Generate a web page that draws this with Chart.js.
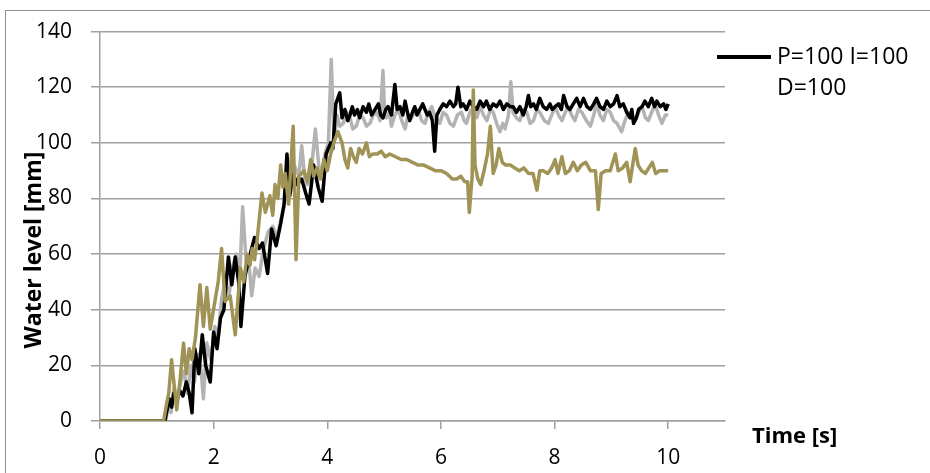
<!DOCTYPE html>
<html>
<head>
<meta charset="utf-8">
<script src="https://cdn.jsdelivr.net/npm/chart.js@4/dist/chart.umd.min.js"></script>
<style>
  html, body { margin: 0; padding: 0; background: #fff; overflow: hidden; }
  #frame { position: absolute; left: 5px; top: 10px; width: 1000px; height: 1000px; border: 1px solid #8f8f8f; }
  #waterChart { position: absolute; left: 0; top: 0; }
</style>
</head>
<body>
<div id="frame"></div>
<canvas id="waterChart" width="930" height="473"></canvas>
<script>
// x axis / y axis
var xTicks = [0, 2, 4, 6, 8, 10];
var xTitle = 'Time [s]';
var yTitle = 'Water level [mm]';

// black series (the only one in the legend)
var blackLabel = 'P=100 I=100 D=100';
var blackTime = [0, 1.14, 1.18, 1.22, 1.26, 1.3, 1.35, 1.4, 1.46, 1.52, 1.57, 1.62, 1.67, 1.74, 1.8, 1.86, 1.94, 2.0, 2.06, 2.12, 2.18, 2.26, 2.32, 2.38, 2.44, 2.48, 2.55, 2.63, 2.72, 2.8, 2.86, 2.95, 3.02, 3.1, 3.18, 3.24, 3.29, 3.34, 3.4, 3.47, 3.55, 3.62, 3.68, 3.76, 3.84, 3.91, 3.98, 4.06, 4.1, 4.15,
  4.22, 4.26, 4.31, 4.36, 4.4, 4.44, 4.48, 4.53, 4.57, 4.63, 4.69, 4.73, 4.78, 4.84, 4.9, 4.94, 4.98, 5.03, 5.07, 5.13, 5.19, 5.23, 5.28, 5.33, 5.37, 5.41, 5.45, 5.5, 5.54, 5.58, 5.63, 5.68, 5.72, 5.76, 5.8, 5.85, 5.89, 5.93, 5.98,
  6.04, 6.1, 6.16, 6.22, 6.26, 6.3, 6.35, 6.39, 6.45, 6.51, 6.57, 6.63, 6.69, 6.75, 6.8, 6.86, 6.92, 6.98, 7.04, 7.1, 7.16, 7.22, 7.27, 7.33, 7.39, 7.45, 7.5, 7.54, 7.58, 7.63, 7.68, 7.74, 7.8, 7.86, 7.92, 7.96,
  8.01, 8.07, 8.12, 8.16, 8.22, 8.27, 8.33, 8.39, 8.45, 8.51, 8.57, 8.63, 8.69, 8.74, 8.8, 8.86, 8.92, 8.98, 9.04, 9.1, 9.15, 9.21, 9.27, 9.33, 9.36, 9.39, 9.44, 9.48, 9.54, 9.59, 9.65, 9.71, 9.76, 9.8, 9.86, 9.92, 9.96, 10];
var blackLevel = [0, 0, 4, 8, 5, 10, 7, 11, 9, 14, 10, 3, 26, 17, 31, 20, 14, 32, 26, 37, 40, 59, 49, 59, 50, 34, 52, 59, 66, 62, 64, 53, 69, 63, 71, 78, 96, 81, 89, 85, 87, 82, 78, 92, 84, 79, 96, 100, 98, 114,
  118, 109, 112, 108, 110, 113, 110, 112, 109, 113, 111, 114, 110, 112, 114, 110, 109, 112, 113, 110, 121, 112, 113, 110, 115, 111, 108, 111, 113, 110, 112, 114, 112, 110, 111, 108, 97, 110, 112,
  114, 113, 115, 113, 114, 120, 113, 114, 112, 115, 113, 112, 115, 113, 115, 112, 114, 113, 115, 112, 114, 113, 113, 111, 113, 110, 113, 117, 113, 114, 112, 116, 113, 112, 114, 112,
  113, 114, 112, 117, 113, 112, 114, 116, 113, 116, 113, 112, 114, 116, 113, 112, 115, 113, 114, 117, 113, 114, 111, 109, 112, 107, 109, 112, 113, 115, 113, 116, 113, 115, 113, 114, 112, 114];

// grey series
var greyTime = [0, 1.16, 1.2, 1.25, 1.3, 1.36, 1.42, 1.48, 1.54, 1.6, 1.66, 1.72, 1.78, 1.82, 1.88, 1.95, 2.02, 2.08, 2.14, 2.2, 2.27, 2.33, 2.4, 2.46, 2.51, 2.57, 2.63, 2.67, 2.73, 2.8, 2.88, 2.96, 3.04, 3.12, 3.18, 3.24, 3.3, 3.36, 3.42, 3.5, 3.55, 3.6, 3.65, 3.72, 3.79, 3.85, 3.91, 3.96, 4.02, 4.07,
  4.12, 4.17, 4.22, 4.28, 4.34, 4.4, 4.45, 4.51, 4.57, 4.63, 4.69, 4.75, 4.81, 4.87, 4.93, 4.98, 5.01, 5.04, 5.09, 5.13, 5.19, 5.25, 5.31, 5.37, 5.42, 5.48, 5.54, 5.6, 5.66, 5.72, 5.78, 5.84, 5.9, 5.98,
  6.04, 6.1, 6.16, 6.22, 6.29, 6.36, 6.41, 6.45, 6.51, 6.57, 6.63, 6.69, 6.75, 6.81, 6.87, 6.92, 6.98, 7.04, 7.09, 7.13, 7.19, 7.23, 7.27, 7.33, 7.39, 7.45, 7.51, 7.57, 7.63, 7.69, 7.74, 7.82, 7.89, 7.95,
  8.01, 8.07, 8.13, 8.19, 8.24, 8.3, 8.36, 8.42, 8.48, 8.56, 8.63, 8.69, 8.74, 8.8, 8.86, 8.92, 8.98, 9.04, 9.1, 9.18, 9.24, 9.3, 9.36, 9.42, 9.48, 9.54, 9.6, 9.65, 9.71, 9.77, 9.83, 9.89, 9.95, 10];
var greyLevel = [0, 0, 6, 3, 12, 8, 14, 18, 10, 20, 14, 24, 18, 8, 28, 22, 34, 30, 44, 50, 45, 55, 60, 52, 77, 58, 55, 45, 55, 52, 62, 68, 70, 66, 72, 77, 86, 90, 92, 88, 99, 88, 85, 90, 105, 92, 89, 96, 100, 130,
  100, 110, 106, 107, 111, 109, 105, 106, 110, 109, 106, 107, 110, 111, 108, 126, 110, 109, 111, 106, 110, 112, 108, 105, 110, 109, 111, 112, 108, 107, 111, 113, 109, 107,
  111, 110, 107, 106, 110, 111, 108, 107, 111, 113, 109, 113, 110, 108, 112, 111, 107, 104, 107, 105, 110, 122, 111, 109, 108, 112, 111, 107, 108, 112, 111, 108, 107, 110,
  113, 110, 108, 111, 113, 110, 108, 112, 111, 108, 106, 110, 114, 110, 108, 112, 111, 108, 107, 104, 108, 111, 109, 108, 111, 113, 109, 108, 111, 114, 110, 107, 110, 110];

// olive series
var oliveTime = [0, 1.12, 1.17, 1.21, 1.26, 1.31, 1.35, 1.41, 1.47, 1.52, 1.57, 1.62, 1.68, 1.76, 1.82, 1.88, 1.94, 2.03, 2.08, 2.14, 2.2, 2.29, 2.38, 2.47, 2.53, 2.59, 2.64, 2.68, 2.72, 2.76, 2.85, 2.91, 2.99, 3.04, 3.08, 3.13, 3.18, 3.22, 3.26, 3.32, 3.4, 3.45, 3.5, 3.59, 3.65, 3.71, 3.76, 3.82, 3.88, 3.94, 4.0, 4.06, 4.13, 4.19,
  4.26, 4.31, 4.36, 4.41, 4.46, 4.51, 4.56, 4.62, 4.69, 4.74, 4.8, 4.88, 4.95, 5.02, 5.1, 5.2, 5.3, 5.4, 5.5, 5.6, 5.7, 5.8, 5.9, 6.0, 6.1, 6.2, 6.28, 6.35, 6.42, 6.47, 6.5, 6.55, 6.57, 6.6, 6.65, 6.7, 6.76, 6.82, 6.87, 6.92, 6.97,
  7.02, 7.08, 7.14, 7.22, 7.3, 7.38, 7.46, 7.54, 7.62, 7.69, 7.74, 7.8, 7.88, 7.95, 8.01, 8.06, 8.13, 8.19, 8.26, 8.33, 8.4, 8.47, 8.55, 8.63, 8.72, 8.77, 8.82, 8.9, 8.98,
  9.07, 9.12, 9.2, 9.27, 9.33, 9.42, 9.47, 9.53, 9.6, 9.66, 9.72, 9.78, 9.85, 9.92, 10];
var oliveLevel = [0, 0, 6, 10, 22, 12, 4, 15, 28, 17, 26, 22, 30, 49, 34, 48, 33, 44, 50, 62, 43, 45, 31, 55, 50, 60, 56, 62, 58, 64, 82, 75, 81, 74, 85, 80, 92, 84, 89, 78, 106, 58, 88, 90, 86, 94, 88, 91, 87, 94, 90, 96, 101, 104,
  100, 94, 91, 98, 95, 93, 98, 96, 100, 95, 96, 96, 97, 95, 96, 95, 94, 94, 93, 92, 92, 91, 90, 90, 89, 87, 87, 88, 86, 86, 75, 88, 119, 92, 87, 85, 90, 96, 106, 89, 92,
  98, 93, 92, 92, 91, 90, 91, 89, 89, 83, 90, 90, 89, 91, 94, 89, 95, 89, 90, 93, 90, 92, 93, 90, 90, 76, 89, 90, 90,
  96, 90, 91, 93, 86, 98, 92, 90, 89, 91, 93, 89, 90, 90, 90];

function points(times, levels) {
  return times.map(function(t, i) { return { x: t, y: levels[i] }; });
}

var textFont = '"Open Sans", sans-serif';

var decorations = {
  id: 'decorations',
  afterDraw: function(chart) {
    var ctx = chart.ctx;
    ctx.save();
    ctx.fillStyle = '#000';
    ctx.textBaseline = 'middle';

    // axis titles
    ctx.font = 'bold 22px ' + textFont;
    ctx.textAlign = 'left';
    ctx.fillText(xTitle, 752, 437);
    ctx.save();
    ctx.translate(34, 250);
    ctx.rotate(-Math.PI / 2);
    ctx.textAlign = 'center';
    ctx.font = 'bold 23px ' + textFont;
    ctx.fillText(yTitle, 0, 0);
    ctx.restore();

    // legend (black line only, label wrapped)
    var ds = chart.data.datasets[1];
    ctx.strokeStyle = ds.borderColor;
    ctx.lineWidth = 4;
    ctx.beginPath();
    ctx.moveTo(717, 57);
    ctx.lineTo(771, 57);
    ctx.stroke();
    ctx.font = '23px ' + textFont;
    var words = ds.label.split(' ');
    var lines = [], cur = '';
    words.forEach(function(w) {
      var test = cur ? cur + ' ' + w : w;
      if (ctx.measureText(test).width > 145 && cur) { lines.push(cur); cur = w; } else { cur = test; }
    });
    lines.push(cur);
    lines.forEach(function(l, i) { ctx.fillText(l, 777, 57 + i * 31); });
    ctx.restore();
  }
};

window.onload = function() {
  var ctx = document.getElementById('waterChart').getContext('2d');
  var chart = new Chart(ctx, {
    type: 'line',
    data: {
      datasets: [{
        label: 'olive',
        data: points(oliveTime, oliveLevel),
        borderColor: '#a09356',
        borderWidth: 3.5
      }, {
        label: blackLabel,
        data: points(blackTime, blackLevel),
        borderColor: '#000000',
        borderWidth: 3.5
      }, {
        label: 'grey',
        data: points(greyTime, greyLevel),
        borderColor: '#b3b3b3',
        borderWidth: 3.5
      }]
    },
    options: {
      responsive: false,
      animation: false,
      devicePixelRatio: 1,
      layout: { padding: { top: 27, right: 205, bottom: 0, left: 0 } },
      elements: { point: { radius: 0 }, line: { tension: 0, borderJoinStyle: 'round' } },
      plugins: {
        legend: { display: false },
        tooltip: { enabled: false }
      },
      scales: {
        x: {
          type: 'linear',
          min: 0,
          max: 11,
          afterBuildTicks: function(scale) {
            scale.ticks = xTicks.map(function(v) { return { value: v }; });
          },
          afterFit: function(scale) { scale.height = 52; },
          grid: { drawOnChartArea: false, drawTicks: true, tickLength: 8, color: '#a0a0a0', lineWidth: 1.5 },
          border: { color: '#a0a0a0', width: 1.5 },
          ticks: { color: '#000', padding: 16, maxRotation: 0, font: { family: textFont, size: 21 } }
        },
        y: {
          min: 0,
          max: 140,
          afterFit: function(scale) { scale.width = 100; },
          grid: { color: '#a0a0a0', lineWidth: 1.5, tickLength: 9 },
          border: { color: '#a0a0a0', width: 1.5 },
          ticks: { stepSize: 20, color: '#000', padding: 19, font: { family: textFont, size: 21 } }
        }
      }
    },
    plugins: [decorations]
  });
};
</script>
</body>
</html>
